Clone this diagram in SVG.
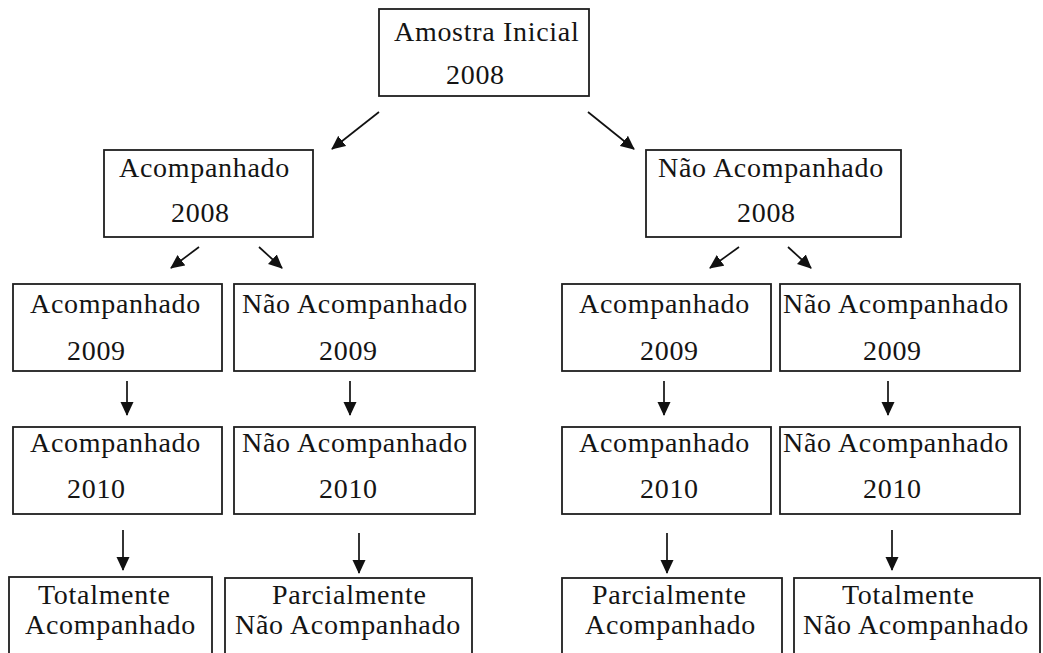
<svg xmlns="http://www.w3.org/2000/svg" width="1043" height="653" viewBox="0 0 1043 653">
<defs>
<style>
.box{fill:#fff;stroke:#1e1e1e;stroke-width:1.8}
.t{font-family:"Liberation Serif","Times New Roman",serif;font-size:28px;fill:#141414;letter-spacing:0.7px}
.c{stroke:#111;stroke-width:1.7;fill:none;marker-end:url(#ah)}
</style>
<marker id="ah" markerUnits="userSpaceOnUse" markerWidth="14" markerHeight="14" refX="13" refY="7" orient="auto">
<path d="M0,0.5 L14,7 L0,13.5 z" fill="#111"/>
</marker>
</defs>
<rect width="1043" height="653" fill="#fff"/>
<g id="connectors">
<line class="c" x1="379" y1="112" x2="332" y2="149"/>
<line class="c" x1="588" y1="112" x2="634" y2="149"/>
<line class="c" x1="199" y1="247" x2="171" y2="268"/>
<line class="c" x1="259" y1="247" x2="282" y2="268"/>
<line class="c" x1="739" y1="247" x2="710" y2="268"/>
<line class="c" x1="788" y1="247" x2="811" y2="268"/>
<line class="c" x1="127" y1="381" x2="127" y2="415"/>
<line class="c" x1="350" y1="381" x2="350" y2="415"/>
<line class="c" x1="664" y1="381" x2="664" y2="415"/>
<line class="c" x1="888" y1="381" x2="888" y2="415"/>
<line class="c" x1="123" y1="530" x2="123" y2="570"/>
<line class="c" x1="359" y1="533" x2="359" y2="573"/>
<line class="c" x1="667" y1="533" x2="667" y2="573"/>
<line class="c" x1="892" y1="530" x2="892" y2="570"/>
</g>
<g id="n-inicial"><rect class="box" x="379" y="9" width="210" height="87"/><text class="t" x="394" y="41">Amostra Inicial</text><text class="t" x="446" y="84">2008</text></g>
<g id="n-acomp2008"><rect class="box" x="104" y="150" width="209" height="87"/><text class="t" x="119" y="177">Acompanhado</text><text class="t" x="171" y="222">2008</text></g>
<g id="n-nacomp2008"><rect class="box" x="646" y="150" width="255" height="87"/><text class="t" x="658" y="177">Não Acompanhado</text><text class="t" x="737" y="222">2008</text></g>
<g id="n-a-a2009"><rect class="box" x="13" y="284" width="209" height="87"/><text class="t" x="30" y="313">Acompanhado</text><text class="t" x="67" y="360">2009</text></g>
<g id="n-a-n2009"><rect class="box" x="234" y="284" width="241" height="87"/><text class="t" x="242" y="313">Não Acompanhado</text><text class="t" x="319" y="360">2009</text></g>
<g id="n-n-a2009"><rect class="box" x="562" y="284" width="209" height="87"/><text class="t" x="579" y="313">Acompanhado</text><text class="t" x="640" y="360">2009</text></g>
<g id="n-n-n2009"><rect class="box" x="780" y="284" width="240" height="87"/><text class="t" x="783" y="313">Não Acompanhado</text><text class="t" x="863" y="360">2009</text></g>
<g id="n-a-a2010"><rect class="box" x="13" y="427" width="209" height="87"/><text class="t" x="30" y="452">Acompanhado</text><text class="t" x="67" y="498">2010</text></g>
<g id="n-a-n2010"><rect class="box" x="234" y="427" width="241" height="87"/><text class="t" x="242" y="452">Não Acompanhado</text><text class="t" x="319" y="498">2010</text></g>
<g id="n-n-a2010"><rect class="box" x="562" y="427" width="209" height="87"/><text class="t" x="579" y="452">Acompanhado</text><text class="t" x="640" y="498">2010</text></g>
<g id="n-n-n2010"><rect class="box" x="780" y="427" width="240" height="87"/><text class="t" x="783" y="452">Não Acompanhado</text><text class="t" x="863" y="498">2010</text></g>
<g id="n-tot-acomp"><rect class="box" x="9" y="577" width="203" height="90"/><text class="t" x="38" y="604">Totalmente</text><text class="t" x="25" y="634">Acompanhado</text></g>
<g id="n-parc-nacomp"><rect class="box" x="225" y="578" width="247" height="90"/><text class="t" x="272" y="604">Parcialmente</text><text class="t" x="235" y="634">Não Acompanhado</text></g>
<g id="n-parc-acomp"><rect class="box" x="562" y="578" width="220" height="90"/><text class="t" x="592" y="604">Parcialmente</text><text class="t" x="585" y="634">Acompanhado</text></g>
<g id="n-tot-nacomp"><rect class="box" x="794" y="578" width="246" height="90"/><text class="t" x="842" y="604">Totalmente</text><text class="t" x="803" y="634">Não Acompanhado</text></g>
</svg>
